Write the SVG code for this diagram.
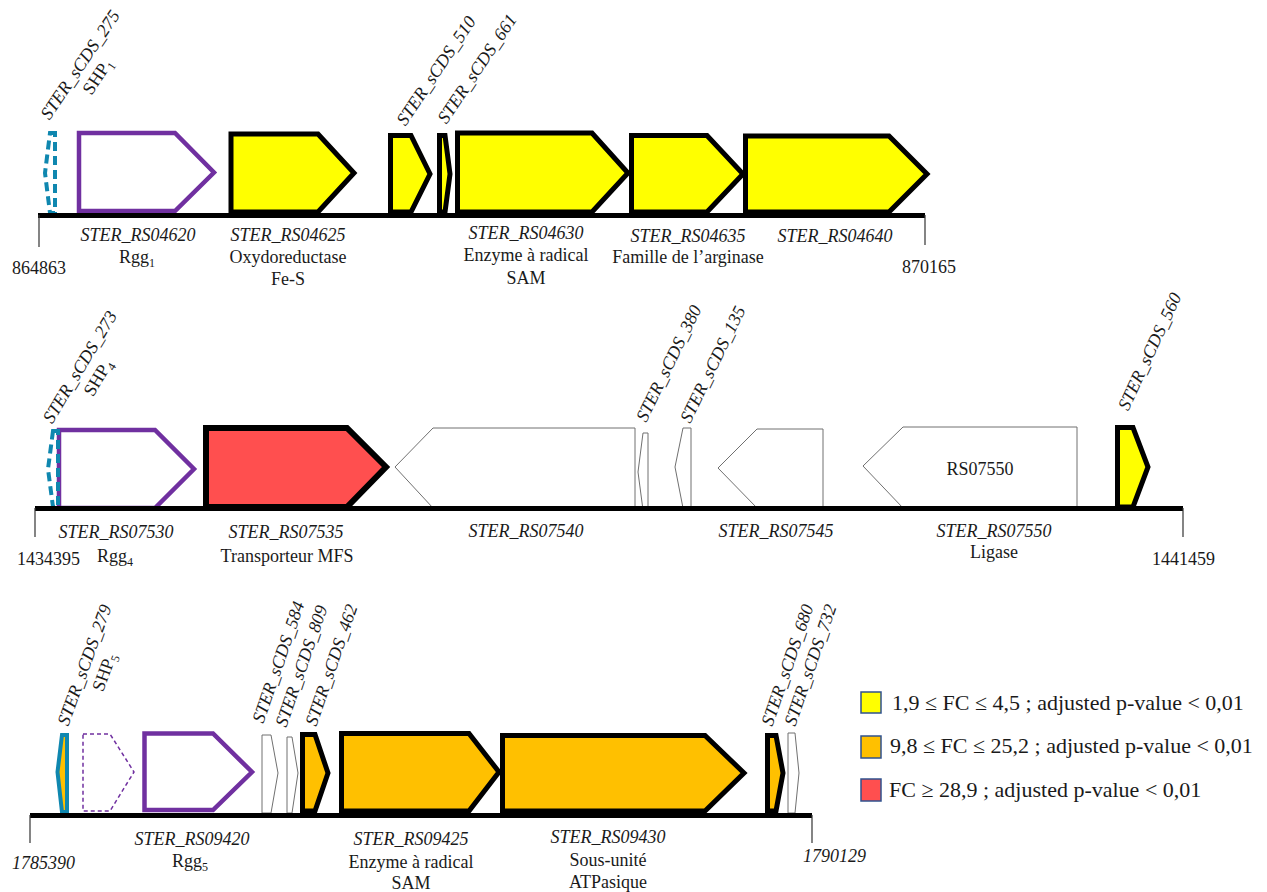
<svg xmlns="http://www.w3.org/2000/svg" width="1267" height="892" viewBox="0 0 1267 892">
<style>
text{font-family:"Liberation Serif","Times New Roman",serif;font-size:18px;fill:#1a1a1a}
.i{font-style:italic}
.m{text-anchor:middle}
.lg{font-size:22px}
.base{stroke:#000;stroke-width:5;fill:none}
.tick{stroke:#333;stroke-width:1.2;fill:none}
.g{stroke:#000;stroke-width:5;stroke-linejoin:miter}
.y{fill:#FFFF00}
.o{fill:#FFC000}
.r{fill:#FF4F4F}
.rgg{fill:#fff;stroke:#7030A0;stroke-width:4.5;stroke-linejoin:miter}
.shp{fill:none;stroke:#0F87AF;stroke-width:4;stroke-dasharray:9 5}
.w{fill:#fff;stroke:#707070;stroke-width:1}
.sq{stroke:#2F528F;stroke-width:1.5}
</style>

<!-- Row 1 -->
<g id="row1-genes">
  <polygon id="SHP1" class="shp" points="50,133 55,133 55,213 50,213 45,173"/>
  <polygon id="RS04620" class="rgg" points="79,133 175,133 214,172.5 175,211 79,211"/>
  <polygon id="RS04625" class="g y" points="231,134 318,134 354,173 318,212 231,212"/>
  <polygon id="sCDS510" class="g y" points="390.5,135.5 411,135.5 430,174 411,212 390.5,212"/>
  <polygon id="sCDS661" class="g y" points="439.5,135.5 445,135.5 450,174 445,212 439.5,212"/>
  <polygon id="RS04630" class="g y" points="457.5,133 592,133 628,173 592,212 457.5,212"/>
  <polygon id="RS04635" class="g y" points="631.5,135.5 707,135.5 743,174 707,212 631.5,212"/>
  <polygon id="RS04640" class="g y" points="745.5,136 889,136 927,174 889,212 745.5,212"/>
</g>
<g id="row1-axis">
  <line class="base" x1="38" y1="215.5" x2="925" y2="215.5"/>
  <line class="tick" x1="39" y1="215" x2="39" y2="247"/>
  <line class="tick" x1="925" y1="215" x2="925" y2="245"/>
</g>
<g id="row1-labels">
  <text x="12" y="274">864863</text>
  <text x="902" y="273">870165</text>
  <text class="i m" x="138" y="241">STER_RS04620</text>
  <text class="m" x="137" y="263">Rgg<tspan font-size="12" dy="4">1</tspan></text>
  <text class="i m" x="288" y="241">STER_RS04625</text>
  <text class="m" x="288" y="263">Oxydoreductase</text>
  <text class="m" x="288" y="285">Fe-S</text>
  <text class="i m" x="526" y="239">STER_RS04630</text>
  <text class="m" x="526" y="261">Enzyme à radical</text>
  <text class="m" x="526" y="284">SAM</text>
  <text class="i m" x="688" y="242">STER_RS04635</text>
  <text class="m" x="688" y="263">Famille de l’arginase</text>
  <text class="i m" x="835" y="242">STER_RS04640</text>
  <g transform="translate(85,68) rotate(-56)"><text class="i m" x="0" y="0">STER_sCDS_275</text><text class="m" x="0" y="21">SHP<tspan font-size="12" dy="4">1</tspan></text></g>
  <text class="i m" transform="translate(441,74) rotate(-56)">STER_sCDS_510</text>
  <text class="i m" transform="translate(482,72) rotate(-56)">STER_sCDS_661</text>
</g>

<!-- Row 2 -->
<g id="row2-genes">
  <polygon id="RS07530" class="rgg" points="59,430 155,430 194,469 155,508 59,508"/>
  <polygon id="SHP4" class="shp" points="53,431 58,431 58,507 53,507 48,469"/>
  <polygon id="RS07535" class="g r" style="stroke-width:6" points="206,428 347,428 386,467 347,507 206,507"/>
  <polygon id="RS07540" class="w" points="395,467 433,428 635,428 635,508 433,508"/>
  <polygon id="sCDS380" class="w" points="643,433 648,433 648,510 643,510 638,472"/>
  <polygon id="sCDS135" class="w" points="683,428 691,428 691,508 683,508 675,467"/>
  <polygon id="RS07545" class="w" points="718,468 757,429 823,429 823,508 757,508"/>
  <polygon id="RS07550" class="w" points="863,466 903,427 1077,427 1077,508 903,508"/>
  <polygon id="sCDS560" class="g y" points="1117.5,427.5 1133,427.5 1148,467 1133,507 1117.5,507"/>
</g>
<g id="row2-axis">
  <line class="base" x1="35" y1="508.5" x2="1183" y2="508.5"/>
  <line class="tick" x1="35" y1="508" x2="35" y2="537"/>
  <line class="tick" x1="1183" y1="508" x2="1183" y2="537"/>
</g>
<g id="row2-labels">
  <text x="17" y="565">1434395</text>
  <text x="1152" y="565">1441459</text>
  <text class="m" x="980" y="475">RS07550</text>
  <text class="i m" x="116" y="538">STER_RS07530</text>
  <text class="m" x="115" y="562">Rgg<tspan font-size="12" dy="4">4</tspan></text>
  <text class="i m" x="286" y="538">STER_RS07535</text>
  <text class="m" x="287" y="562">Transporteur MFS</text>
  <text class="i m" x="526" y="537">STER_RS07540</text>
  <text class="i m" x="776" y="537">STER_RS07545</text>
  <text class="i m" x="994" y="537">STER_RS07550</text>
  <text class="m" x="994" y="558">Ligase</text>
  <g transform="translate(85,370) rotate(-59)"><text class="i m" x="0" y="0">STER_sCDS_273</text><text class="m" x="0" y="21">SHP<tspan font-size="12" dy="4">4</tspan></text></g>
  <text class="i m" transform="translate(674,366) rotate(-64)">STER_sCDS_380</text>
  <text class="i m" transform="translate(718,367) rotate(-64)">STER_sCDS_135</text>
  <text class="i m" transform="translate(1155,354) rotate(-65)">STER_sCDS_560</text>
</g>

<!-- Row 3 -->
<g id="row3-genes">
  <polygon id="SHP5" class="o" style="stroke:#0F87AF;stroke-width:4" points="62,735 67,735 67,812 62,812 57.5,772"/>
  <polygon id="Rgg-dashed" fill="#fff" stroke="#7030A0" stroke-width="1.5" stroke-dasharray="4 3" points="83,734 110,734 134,772 110,811 83,811"/>
  <polygon id="RS09420" class="rgg" points="144.5,733.5 213,733.5 252,772 213,810 144.5,810"/>
  <polygon id="sCDS584" class="w" points="262,735 271,735 278,773 271,813 262,813"/>
  <polygon id="sCDS809" class="w" points="287,737 292,737 298,773 292,813 287,813"/>
  <polygon id="sCDS462" class="g o" points="302.5,734.5 315,734.5 328,773 315,811 302.5,811"/>
  <polygon id="RS09425" class="g o" points="341.5,733.5 469,733.5 499,772 469,811 341.5,811"/>
  <polygon id="RS09430" class="g o" points="502.5,735.5 705,735.5 744,773 705,811 502.5,811"/>
  <polygon id="sCDS680" class="g o" points="767.5,735.5 776,735.5 783,773 776,811 767.5,811"/>
  <polygon id="sCDS732" class="w" points="788,733 795,733 799,773 795,813 788,813"/>
</g>
<g id="row3-axis">
  <line class="base" x1="30" y1="815.5" x2="812" y2="815.5"/>
  <line class="tick" x1="30" y1="815" x2="30" y2="843"/>
  <line class="tick" x1="812" y1="815" x2="812" y2="843"/>
</g>
<g id="row3-labels">
  <text class="i" x="12" y="869">1785390</text>
  <text class="i" x="803" y="862">1790129</text>
  <text class="i m" x="192" y="845">STER_RS09420</text>
  <text class="m" x="190" y="867">Rgg<tspan font-size="12" dy="4">5</tspan></text>
  <text class="i m" x="411" y="845">STER_RS09425</text>
  <text class="m" x="411" y="868">Enzyme à radical</text>
  <text class="m" x="411" y="889">SAM</text>
  <text class="i m" x="608" y="843">STER_RS09430</text>
  <text class="m" x="608" y="866">Sous-unité</text>
  <text class="m" x="608" y="888">ATPasique</text>
  <g transform="translate(90,667) rotate(-70)"><text class="i m" x="0" y="0">STER_sCDS_279</text><text class="m" x="0" y="21">SHP<tspan font-size="12" dy="4">5</tspan></text></g>
  <text class="i m" transform="translate(284,664) rotate(-71)">STER_sCDS_584</text>
  <text class="i m" transform="translate(307,668) rotate(-71)">STER_sCDS_809</text>
  <text class="i m" transform="translate(337,667) rotate(-71)">STER_sCDS_462</text>
  <text class="i m" transform="translate(793,667) rotate(-71)">STER_sCDS_680</text>
  <text class="i m" transform="translate(816,667) rotate(-71)">STER_sCDS_732</text>
</g>

<!-- Legend -->
<g id="legend">
  <rect class="sq" x="861" y="692" width="20" height="21" fill="#FFFF00"/>
  <text class="lg" x="892" y="710">1,9 ≤ FC ≤ 4,5 ; adjusted p-value &lt; 0,01</text>
  <rect class="sq" x="861" y="736" width="20" height="22" fill="#FFC000"/>
  <text class="lg" x="890" y="753">9,8 ≤ FC ≤ 25,2 ; adjusted p-value &lt; 0,01</text>
  <rect class="sq" x="861" y="779" width="20" height="22" fill="#FF4F4F"/>
  <text class="lg" x="889" y="797">FC ≥ 28,9 ; adjusted p-value &lt; 0,01</text>
</g>
</svg>
